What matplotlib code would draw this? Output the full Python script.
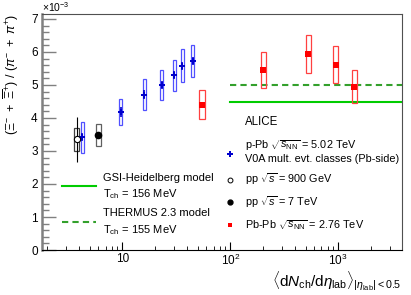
import matplotlib
matplotlib.use("Agg")
import matplotlib.pyplot as plt
from matplotlib.patches import Rectangle
from matplotlib.ticker import LogLocator, MultipleLocator, NullFormatter
import numpy as np

plt.rcParams['font.family'] = ['Liberation Sans', 'DejaVu Sans']
plt.rcParams['mathtext.fontset'] = 'custom'
plt.rcParams['mathtext.rm'] = 'Liberation Sans'
plt.rcParams['mathtext.it'] = 'Liberation Sans:italic'
plt.rcParams['mathtext.bf'] = 'Liberation Sans:bold'

# data (ratio in units of 1e-3)
ppb_x = np.array([4.27, 9.7, 16.0, 23.1, 30.2, 36.1, 44.9])
ppb_y = np.array([3.41, 4.18, 4.71, 5.01, 5.30, 5.58, 5.73])
ppb_stat = np.array([0.12, 0.15, 0.13, 0.12, 0.12, 0.12, 0.11])
ppb_sys = np.array([0.47, 0.39, 0.48, 0.45, 0.47, 0.50, 0.49])

pp900_x = np.array([3.78])
pp900_y = np.array([3.35])
pp900_stat = np.array([0.67])
pp900_sys = np.array([0.34])

pp7_x = np.array([6.0])
pp7_y = np.array([3.48])
pp7_stat = np.array([0.05])
pp7_sys = np.array([0.34])

pbpb_x = np.array([54.8, 203, 528, 946, 1416])
pbpb_y = np.array([4.40, 5.45, 5.93, 5.62, 4.95])
pbpb_stat = np.array([0.06, 0.08, 0.08, 0.08, 0.08])
pbpb_sys = np.array([0.44, 0.55, 0.57, 0.55, 0.49])

gsi_val = 4.49
thermus_val = 5.00
model_xmin = 100


def sys_boxes(ax, x, y, err, hw, color):
    # hw: half width of box in decades
    for xi, yi, ei in zip(x, y, err):
        x0 = xi * 10 ** (-hw)
        x1 = xi * 10 ** hw
        ax.add_patch(Rectangle((x0, yi - ei), x1 - x0, 2 * ei, fill=False,
                               edgecolor=color, lw=0.9, zorder=2))


fig = plt.figure(figsize=(4.11, 2.95), dpi=100)
ax = fig.add_axes([0.102, 0.1525, 0.876, 0.80])

ax.set_xscale('log')
ax.set_xlim(1.8, 3900)
ax.set_ylim(0, 7.15)

# models
ax.plot([model_xmin, 3900], [gsi_val, gsi_val], color='#00cc00', lw=1.5, zorder=1)
ax.plot([model_xmin, 3900], [thermus_val, thermus_val], color='#33a02c', lw=1.5,
        ls=(0, (3, 2)), zorder=1)

# systematic boxes
sys_boxes(ax, ppb_x, ppb_y, ppb_sys, 0.013, '#5050ff')
sys_boxes(ax, pp900_x, pp900_y, pp900_sys, 0.023, '#404040')
sys_boxes(ax, pp7_x, pp7_y, pp7_sys, 0.022, '#606060')
sys_boxes(ax, pbpb_x, pbpb_y, pbpb_sys, 0.024, '#ff4040')

# points with statistical errors
ax.errorbar(ppb_x, ppb_y, yerr=ppb_stat, fmt='P', color='#0000cc', ms=4.5,
            mew=0, elinewidth=1.2, capsize=0, zorder=4)
ax.errorbar(pp900_x, pp900_y, yerr=pp900_stat, fmt='o', color='black', mfc='white',
            ms=4.5, mew=0.8, elinewidth=0.8, capsize=0, zorder=4)
ax.errorbar(pp7_x, pp7_y, yerr=pp7_stat, fmt='o', color='black', ms=4.5,
            elinewidth=0.8, capsize=0, zorder=4)
ax.errorbar(pbpb_x, pbpb_y, yerr=pbpb_stat, fmt='s', color='red', ms=4,
            mew=0, elinewidth=1.5, ecolor='#ff9999', capsize=0, zorder=4)

# axes styling
for s in ['top', 'right']:
    ax.spines[s].set_color('#505050')
ax.spines['left'].set_color('#808080')
ax.spines['left'].set_linewidth(1.8)
ax.spines['bottom'].set_color('black')
ax.yaxis.set_major_locator(MultipleLocator(1))
ax.yaxis.set_minor_locator(MultipleLocator(0.2))
ax.xaxis.set_minor_locator(LogLocator(base=10, subs=np.arange(2, 10), numticks=20))
ax.xaxis.set_minor_formatter(NullFormatter())
ax.set_xticks([10, 100, 1000])
ax.set_xticklabels(['10', r'$10^2$', r'$10^3$'])
ax.tick_params(axis='y', which='major', direction='in', length=10, width=1, color='#808080',
               labelsize=8.5, pad=3, right=False)
ax.tick_params(axis='y', which='minor', direction='in', length=5, width=1, color='#808080',
               right=False)
ax.tick_params(axis='x', which='major', direction='in', length=6, width=0.8,
               labelsize=8.5, pad=2, top=False)
ax.tick_params(axis='x', which='minor', direction='in', length=3, width=0.6, top=False)

fig.text(0.102, 0.975, r'$\times10^{-3}$', fontsize=7.5, ha='left', va='center')

ax.set_ylabel(r'$(\Xi^{-}\ +\ \overline{\Xi}^{+})\ /\ (\pi^{-}\ +\ \pi^{+})$', fontsize=9,
              loc='top', labelpad=7)
fig.text(0.978, 0.03, r'$\langle \mathrm{d}N_{\mathrm{ch}}/\mathrm{d}\eta_{\mathrm{lab}}\rangle_{|\eta_{\mathrm{lab}}|< 0.5}$',
         fontsize=11, ha='right', va='baseline')

# left legend (models)
tr = fig.transFigure
W, H = 411.0, 295.0
fig.add_artist(plt.Line2D([62 / W, 96 / W], [1 - 185.7 / H] * 2, color='#00cc00', lw=1.5,
                          transform=tr))
fig.add_artist(plt.Line2D([62 / W, 96 / W], [1 - 221.7 / H] * 2, color='#33a02c', lw=1.5,
                          ls=(0, (3, 2)), transform=tr))
lfs = 8
fig.text(103 / W, 1 - 178 / H, 'GSI-Heidelberg model', fontsize=lfs, va='center')
fig.text(103 / W, 1 - 194 / H, r'T$_{\mathrm{ch}}$ = 156 MeV', fontsize=lfs, va='center')
fig.text(103 / W, 1 - 213 / H, 'THERMUS 2.3 model', fontsize=lfs, va='center')
fig.text(103 / W, 1 - 230 / H, r'T$_{\mathrm{ch}}$ = 155 MeV', fontsize=lfs, va='center')

# right legend (data)
rfs = 7.8
fig.text(245 / W, 1 - 122 / H, 'ALICE', fontsize=8.3, va='center')
fig.text(245 / W, 1 - 145 / H, r'p-Pb $\sqrt{s_{\mathrm{NN}}}$ = 5.02 TeV', fontsize=rfs, va='center')
fig.text(245 / W, 1 - 159.5 / H, 'V0A mult. evt. classes (Pb-side)', fontsize=rfs, va='center')
fig.text(245 / W, 1 - 179.5 / H, r'pp $\sqrt{s}$ = 900 GeV', fontsize=rfs, va='center')
fig.text(245 / W, 1 - 202 / H, r'pp $\sqrt{s}$ = 7 TeV', fontsize=rfs, va='center')
fig.text(245 / W, 1 - 225 / H, r'Pb-Pb $\sqrt{s_{\mathrm{NN}}}$ = 2.76 TeV', fontsize=rfs, va='center')
fig.add_artist(plt.Line2D([230 / W], [1 - 154 / H], marker='P', color='#0000cc', ms=4,
                          mew=0, transform=tr))
fig.add_artist(plt.Line2D([230 / W], [1 - 179.5 / H], marker='o', color='black', mfc='white',
                          ms=3.5, mew=0.7, transform=tr))
fig.add_artist(plt.Line2D([230 / W], [1 - 202 / H], marker='o', color='black', ms=3.5,
                          transform=tr))
fig.add_artist(plt.Line2D([230 / W], [1 - 225 / H], marker='s', color='red', ms=3.5,
                          mew=0, transform=tr))

fig.savefig('out.png', dpi=100)
